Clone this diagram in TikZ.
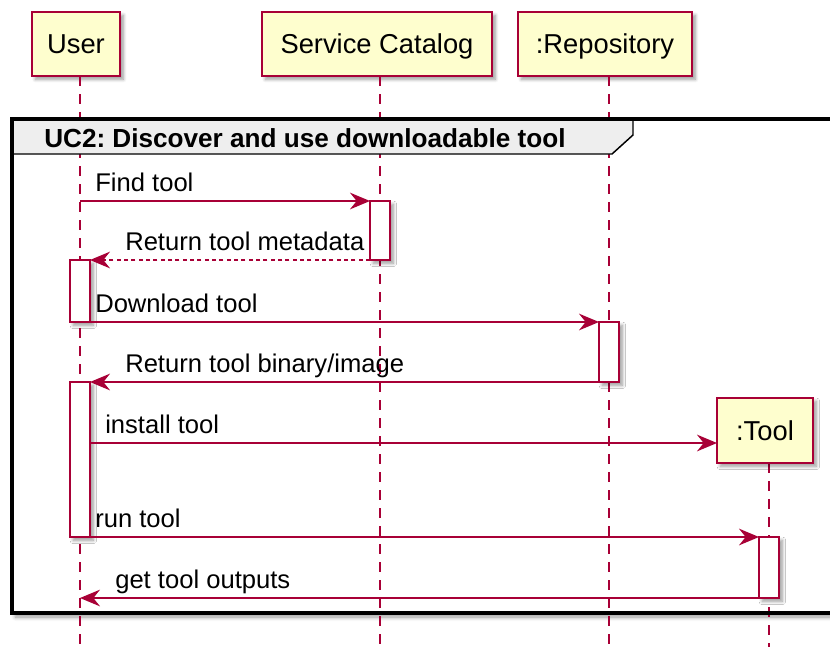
\documentclass[tikz,border=0pt]{standalone}
\usepackage{fontspec}
\setmainfont{Liberation Sans}
\usetikzlibrary{arrows.meta,shadows.blur}
\definecolor{puborder}{HTML}{A80036}
\definecolor{pufill}{HTML}{FEFECE}
\definecolor{putab}{HTML}{EEEEEE}
\frenchspacing
\begin{document}
\begin{tikzpicture}[x=0.75pt,y=-0.75pt,
  softshadow/.style={blur shadow={shadow xshift=2.5pt, shadow yshift=-2.5pt, shadow blur radius=2.5pt, shadow blur steps=6, shadow opacity=40}},
  participant/.style={draw=puborder, fill=pufill, line width=2pt, inner sep=0pt, outer sep=0pt,
    text height=14.3pt, text depth=0pt, font=\fontsize{20.5pt}{24pt}\selectfont, softshadow},
  lifeline/.style={draw=puborder, line width=0.9pt, dash pattern=on 7.5pt off 6pt},
  actbox/.style={draw=puborder, fill=white, line width=1.2pt, inner sep=0pt, outer sep=0pt,
    minimum width=15pt, anchor=north west, softshadow},
  msg/.style={draw=puborder, line width=1.2pt, -{Stealth[length=15pt,width=12.5pt,inset=5pt]}},
  ret/.style={msg, dash pattern=on 3pt off 2.5pt},
  msglabel/.style={anchor=base west, inner sep=0pt, font=\fontsize{19.2pt}{23pt}\selectfont},
]
\useasboundingbox (0,0) rectangle (830,646);
\clip (0,0) rectangle (830,646);

% frame background with shadow
\fill[white, blur shadow={shadow xshift=2.5pt, shadow yshift=-3pt, shadow blur radius=3pt, shadow blur steps=6, shadow opacity=40}] (12,119) rectangle (860,613);

% participants
\node[participant, minimum width=66pt, minimum height=48pt] (user) at (76,44) {User};
\node[participant, minimum width=172.5pt, minimum height=48pt] (sc) at (377,44) {Service Catalog};
\node[participant, minimum width=130.5pt, minimum height=48pt] (repo) at (605,44) {:Repository};

% lifeline end points
\coordinate (userbot) at (80,650);
\coordinate (scbot) at (380,650);
\coordinate (repobot) at (609,650);
\coordinate (toolbot) at (769,650);
\coordinate (tooltop) at (769,463);

\draw[lifeline] (user.south -| userbot) -- (userbot);
\draw[lifeline] (sc.south -| scbot) -- (scbot);
\draw[lifeline] (repo.south -| repobot) -- (repobot);
\draw[lifeline] (tooltop) -- (toolbot);

% created participant
\node[participant, minimum width=72pt, minimum height=48.75pt] (tool) at (765,430.5) {:Tool};

% frame header tab
\draw[fill=putab, line width=1.1pt] (12,119) -- (633,119) -- (633,135) -- (612,154) -- (12,154) -- cycle;
\node[anchor=base west, inner sep=0pt, font=\bfseries\fontsize{19.6pt}{23pt}\selectfont] (title) at (44,147) {UC2: Discover and use downloadable tool};
\draw[line width=2.3pt] (12,119) rectangle (860,613);

% activation bars
\node[actbox, minimum height=44.25pt] (scact) at (370,201) {};
\node[actbox, minimum height=46.5pt] (uact1) at (70,260) {};
\node[actbox, minimum height=45pt] (repoact) at (599,322) {};
\node[actbox, minimum height=116.25pt] (uact2) at (70,382) {};
\node[actbox, minimum height=45.75pt] (toolact) at (759,537) {};

% messages
\coordinate (ufind) at (80,201);
\coordinate (uout) at (80,598);
\coordinate (inst) at (717,443);

\draw[msg] (ufind) -- (scact.north west);
\node[msglabel] (l1) at (95,191) {Find tool};

\draw[ret] (scact.south west) -- (uact1.north east);
\node[msglabel] (l2) at (125,250) {Return tool metadata};

\draw[msg] (uact1.south east) -- (repoact.north west);
\node[msglabel] (l3) at (95,312) {Download tool};

\draw[msg] (repoact.south west) -- (uact2.north east);
\node[msglabel] (l4) at (125,372) {Return tool binary/image};

\draw[msg] (uact2.east |- inst) -- (inst);
\node[msglabel] (l5) at (105,433) {install tool};

\draw[msg] (uact2.south east) -- (toolact.north west);
\node[msglabel] (l6) at (95,527) {run tool};

\draw[msg] (toolact.south west) -- (uout);
\node[msglabel] (l7) at (115,588) {get tool outputs};
\end{tikzpicture}
\end{document}
